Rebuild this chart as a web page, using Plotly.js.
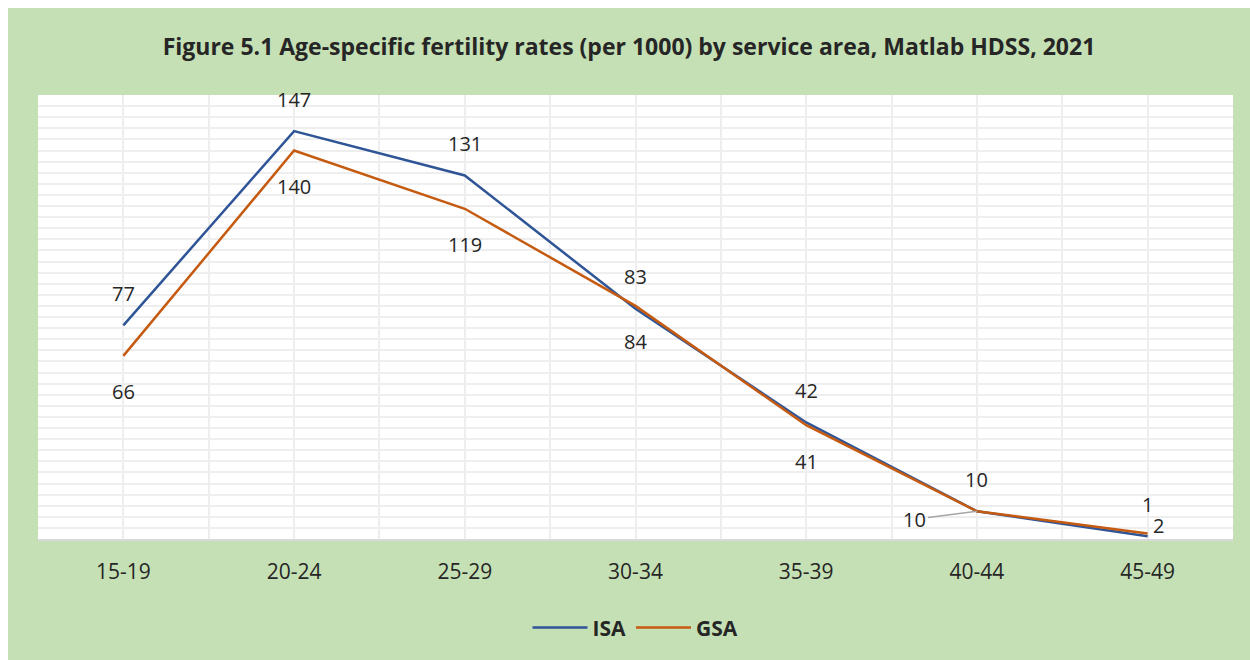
<!DOCTYPE html>
<html>
<head>
<meta charset="utf-8">
<script src="https://cdn.plot.ly/plotly-3.0.1.min.js"></script>
<style>
html, body { margin: 0; padding: 0; background: #ffffff; width: 1250px; height: 660px; overflow: hidden; }
#chart { position: absolute; left: 8px; top: 8px; width: 1242px; height: 652px; }
</style>
</head>
<body>
<div id="chart"></div>
<script>
const categories = ["15-19", "20-24", "25-29", "30-34", "35-39", "40-44", "45-49"];
const isaValues = [77, 147, 131, 83, 42, 10, 1];
const gsaValues = [66, 140, 119, 84, 41, 10, 2];
const seriesNames = ["ISA", "GSA"];
const titleText = "Figure 5.1 Age-specific fertility rates (per 1000) by service area, Matlab HDSS, 2021";

const xIdx = categories.map((c, i) => i);
const FONT = "Open Sans, Noto Sans, sans-serif";
const labelFont = { family: FONT, size: 20, color: "#262626" };

const traces = [
  { x: xIdx, y: isaValues, name: seriesNames[0], type: "scatter", mode: "lines",
    line: { color: "#2f5597", width: 2.5 }, hoverinfo: "skip" },
  { x: xIdx, y: gsaValues, name: seriesNames[1], type: "scatter", mode: "lines",
    line: { color: "#c55a11", width: 2.5 }, hoverinfo: "skip" }
];

const annotations = [];
isaValues.forEach((v, i) => {
  annotations.push({ x: i, y: v, xref: "x", yref: "y", text: String(v), showarrow: false,
    yshift: 32, font: labelFont });
});
gsaValues.forEach((v, i) => {
  if (i === 5) {
    annotations.push({ x: i, y: v, xref: "x", yref: "y", text: String(v), showarrow: true,
      arrowhead: 0, arrowwidth: 1.5, arrowcolor: "#a6a6a6", ax: -62, ay: 8,
      xanchor: "center", font: labelFont, standoff: 0 });
  } else if (i === 6) {
    annotations.push({ x: i, y: v, xref: "x", yref: "y", text: String(v), showarrow: false,
      xshift: 11, yshift: 8, font: labelFont });
  } else {
    annotations.push({ x: i, y: v, xref: "x", yref: "y", text: String(v), showarrow: false,
      yshift: -36, font: labelFont });
  }
});

const layout = {
  width: 1242, height: 652,
  paper_bgcolor: "#c5e0b4",
  plot_bgcolor: "#ffffff",
  margin: { l: 30, r: 17, t: 87, b: 112 },
  title: { text: "<b>" + titleText + "</b>", x: 0.5, xanchor: "center", y: 0.94, yanchor: "middle",
    font: { family: FONT, size: 23, color: "#262626" } },
  showlegend: true,
  legend: { orientation: "h", x: 0.5, xanchor: "center", y: -0.2, yanchor: "middle",
    font: { family: FONT, size: 21, color: "#262626", weight: "bold" },
    bgcolor: "rgba(0,0,0,0)", itemwidth: 55, traceorder: "normal" },
  xaxis: {
    type: "linear", range: [-0.5, 6.5], fixedrange: true,
    tickmode: "array", tickvals: xIdx, ticktext: categories,
    ticks: "", ticklabelstandoff: 13,
    tickfont: { family: FONT, size: 21, color: "#262626" },
    showgrid: true, gridcolor: "#eeeeee", gridwidth: 2,
    minor: { tick0: -0.5, dtick: 0.5, showgrid: true, gridcolor: "#eeeeee", gridwidth: 2, ticks: "" },
    zeroline: false, showline: true, linecolor: "#d9d9d9", linewidth: 2
  },
  yaxis: {
    range: [0, 160], dtick: 4, fixedrange: true,
    showticklabels: false, ticks: "",
    showgrid: true, gridcolor: "#eeeeee", gridwidth: 2,
    zeroline: false, showline: false
  },
  annotations: annotations
};

Plotly.newPlot("chart", traces, layout, { displayModeBar: false, staticPlot: true });
</script>
</body>
</html>
